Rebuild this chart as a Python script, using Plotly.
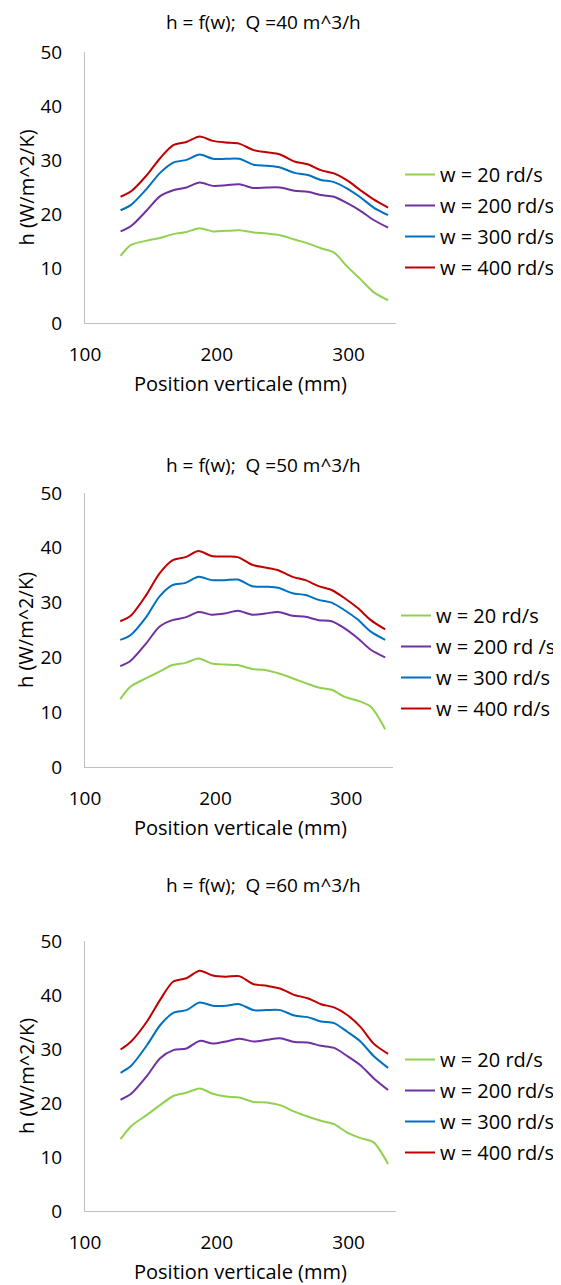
import plotly.graph_objects as go


# Positions de mesure (mm)
position = [127, 135, 147, 157, 167, 177, 187, 197, 207, 217, 228,
            238, 248, 259, 269, 279, 289, 299, 309, 319, 330]

# Q = 40 m^3/h
h40_w20 = [12.4, 14.4, 15.2, 15.7, 16.4, 16.8, 17.5, 16.9, 17.0, 17.1, 16.7,
           16.5, 16.2, 15.4, 14.7, 13.8, 13.0, 10.4, 8.1, 5.7, 4.2]
h40_w200 = [16.9, 17.9, 20.8, 23.4, 24.5, 25.0, 25.9, 25.3, 25.4, 25.6, 24.9,
            25.0, 25.0, 24.4, 24.2, 23.6, 23.3, 22.1, 20.7, 19.0, 17.6]
h40_w300 = [20.8, 21.8, 24.8, 27.7, 29.6, 30.1, 31.1, 30.3, 30.3, 30.3, 29.2,
            29.0, 28.7, 27.7, 27.3, 26.4, 26.0, 24.8, 23.2, 21.3, 19.9]
h40_w400 = [23.3, 24.3, 27.3, 30.4, 32.8, 33.4, 34.4, 33.6, 33.3, 33.1, 31.9,
            31.5, 31.1, 29.8, 29.3, 28.2, 27.6, 26.3, 24.5, 22.8, 21.3]

# Q = 50 m^3/h
h50_w20 = [12.4, 14.7, 16.2, 17.4, 18.6, 19.0, 19.8, 18.9, 18.7, 18.6, 17.9,
           17.7, 17.1, 16.2, 15.3, 14.5, 14.1, 12.8, 12.1, 11.0, 6.9]
h50_w200 = [18.4, 19.4, 22.6, 25.6, 26.8, 27.3, 28.3, 27.8, 28.0, 28.5, 27.8,
            28.0, 28.3, 27.6, 27.4, 26.8, 26.6, 25.3, 23.5, 21.4, 20.0]
h50_w300 = [23.2, 24.1, 27.4, 31.1, 33.2, 33.6, 34.7, 34.1, 34.1, 34.2, 33.0,
            32.9, 32.7, 31.7, 31.4, 30.5, 30.0, 28.6, 26.9, 24.7, 23.2]
h50_w400 = [26.6, 27.6, 31.4, 35.3, 37.7, 38.3, 39.4, 38.5, 38.4, 38.3, 36.9,
            36.4, 35.9, 34.7, 34.1, 33.0, 32.3, 30.8, 29.0, 26.8, 25.1]

# Q = 60 m^3/h
h60_w20 = [13.3, 15.7, 17.8, 19.6, 21.3, 21.9, 22.7, 21.7, 21.2, 21.0, 20.2,
           20.1, 19.6, 18.4, 17.5, 16.7, 16.1, 14.5, 13.5, 12.7, 8.7]
h60_w200 = [20.6, 21.7, 25.0, 28.3, 29.8, 30.1, 31.5, 31.0, 31.4, 31.9, 31.4,
            31.7, 32.0, 31.3, 31.2, 30.6, 30.2, 28.7, 27.0, 24.6, 22.4]
h60_w300 = [25.6, 26.9, 30.7, 34.4, 36.7, 37.2, 38.6, 38.0, 38.0, 38.3, 37.2,
            37.2, 37.2, 36.2, 35.9, 35.1, 34.8, 33.2, 31.4, 28.7, 26.5]
h60_w400 = [29.9, 31.4, 35.1, 39.1, 42.5, 43.1, 44.5, 43.6, 43.4, 43.5, 42.0,
            41.7, 41.2, 40.0, 39.4, 38.3, 37.7, 36.3, 34.1, 31.0, 29.1]

titles = ["h = f(w);\u00a0 Q =40 m^3/h", "h = f(w);\u00a0 Q =50 m^3/h", "h = f(w);\u00a0 Q =60 m^3/h"]
labels_40 = ["w = 20 rd/s", "w = 200 rd/s", "w = 300 rd/s", "w = 400 rd/s"]
labels_50 = ["w = 20 rd/s", "w = 200 rd /s", "w = 300 rd/s", "w = 400 rd/s"]
labels_60 = ["w = 20 rd/s", "w = 200 rd/s", "w = 300 rd/s", "w = 400 rd/s"]

colors = ["#92D050", "#7030A0", "#0070C0", "#C00000"]

# la page a une marge de 8 px : la figure est un peu plus petite que la fenetre
OFF = 8
W, H = 561 - OFF, 1285 - OFF
FONT = "Open Sans"

# position en pixels (fenetre) de chaque graphique : zone de trace, titre, legende
panels = [
    dict(l=85, r=396, t=52, b=323, title=22, leg=155, lx=400),
    dict(l=85, r=393, t=493, b=767, title=465, leg=596, lx=396),
    dict(l=85, r=396, t=941, b=1211, title=885, leg=1040, lx=400),
]

datasets = [
    ([h40_w20, h40_w200, h40_w300, h40_w400], labels_40),
    ([h50_w20, h50_w200, h50_w300, h50_w400], labels_50),
    ([h60_w20, h60_w200, h60_w300, h60_w400], labels_60),
]


def px_x(p):
    return (p - OFF) / W


def px_y(p):
    return 1 - (p - OFF) / H


fig = go.Figure()

for i, (series, labels) in enumerate(datasets):
    n = "" if i == 0 else str(i + 1)
    leg = "legend" + n
    for k, (vals, lab, col) in enumerate(zip(series, labels, colors)):
        fig.add_trace(go.Scatter(
            x=position, y=vals, name=lab, mode="lines",
            line=dict(color=col, width=2, shape="spline", smoothing=0.8),
            xaxis="x" + n, yaxis="y" + n, legend=leg,
            legendgroup="g%d_%d" % (i, k),
        ))

layout = dict(
    width=W, height=H,
    margin=dict(l=0, r=0, t=0, b=0),
    paper_bgcolor="white", plot_bgcolor="white",
    font=dict(family=FONT, size=19, color="black"),
    showlegend=True,
)

annotations = []
for i, p in enumerate(panels):
    n = "" if i == 0 else str(i + 1)
    layout["xaxis" + n] = dict(
        domain=[px_x(p["l"]), px_x(p["r"])], range=[100, 336], automargin=False,
        anchor="y" + n, tickvals=[100, 200, 300], showgrid=False, zeroline=False,
        showline=True, linecolor="#BFBFBF", linewidth=1, ticks="",
        ticklabelstandoff=14, tickfont=dict(size=19),
    )
    layout["yaxis" + n] = dict(
        domain=[px_y(p["b"]), px_y(p["t"])], range=[0, 50], automargin=False,
        anchor="x" + n, tickvals=[0, 10, 20, 30, 40, 50], showgrid=False, zeroline=False,
        showline=True, linecolor="#BFBFBF", linewidth=1, ticks="",
        ticklabelstandoff=18, tickfont=dict(size=19),
    )
    layout["legend" + n] = dict(
        x=px_x(p["lx"]), y=px_y(p["leg"]), xanchor="left", yanchor="top",
        bgcolor="rgba(0,0,0,0)", itemwidth=30, tracegroupgap=2,
        font=dict(size=20, family=FONT),
    )
    # titre du graphique
    annotations.append(dict(
        text=titles[i], x=px_x(263), y=px_y(p["title"]), xref="paper", yref="paper",
        showarrow=False, font=dict(size=19), xanchor="center", yanchor="middle",
        borderpad=0,
    ))
    # titres des axes
    annotations.append(dict(
        text="Position verticale (mm)", x=px_x(240), y=px_y(p["b"] + 60),
        xref="paper", yref="paper", showarrow=False, font=dict(size=20),
        xanchor="center", yanchor="middle",
    ))
    annotations.append(dict(
        text="h (W/m^2/K)", x=px_x(26), y=px_y((p["t"] + p["b"]) / 2),
        xref="paper", yref="paper", showarrow=False, font=dict(size=20),
        textangle=-90, xanchor="center", yanchor="middle",
    ))

layout["annotations"] = annotations
fig.update_layout(**layout)

fig.write_html("out.html")
